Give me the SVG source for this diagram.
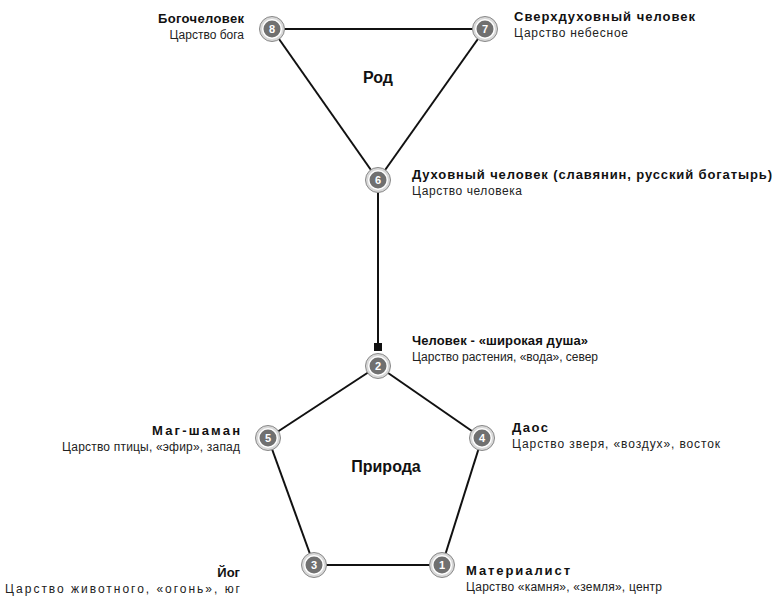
<svg xmlns="http://www.w3.org/2000/svg" width="777" height="600" viewBox="0 0 777 600">
<defs>
<style>
.t{font-family:"Liberation Sans",Arial,sans-serif;font-size:13px;font-weight:bold;fill:#111}
.s{font-family:"Liberation Sans",Arial,sans-serif;font-size:12px;fill:#222}
.c{font-family:"Liberation Sans",Arial,sans-serif;font-size:16px;font-weight:bold;fill:#111}
.n{font-family:"Liberation Sans",Arial,sans-serif;font-size:11px;font-weight:bold;fill:#fff;text-anchor:middle}
.e{stroke:#111;stroke-width:2;fill:none}
.o{fill:#d8d8d8;stroke:#888;stroke-width:1}
.w{fill:#fff}
.i{fill:#707070}
</style>
<marker id="a" markerWidth="8" markerHeight="8" refX="4" refY="4" orient="auto" markerUnits="userSpaceOnUse">
<rect x="0" y="0" width="8" height="8" fill="#111"/>
</marker>
<g id="nd">
<circle r="12.5" class="o"/>
<circle r="10" class="w"/>
<circle r="8.5" class="i"/>
</g>
</defs>
<rect width="777" height="600" fill="#fff"/>
<g id="connectors">
<line class="e" x1="272" y1="29" x2="485" y2="29"/>
<line class="e" x1="272" y1="29" x2="378" y2="180"/>
<line class="e" x1="485" y1="29" x2="378" y2="180"/>
<line class="e" x1="378" y1="193" x2="378" y2="347" marker-end="url(#a)"/>
<line class="e" x1="378" y1="366" x2="482" y2="438"/>
<line class="e" x1="378" y1="366" x2="268" y2="438"/>
<line class="e" x1="268" y1="438" x2="314" y2="565"/>
<line class="e" x1="482" y1="438" x2="442" y2="565"/>
<line class="e" x1="314" y1="565" x2="442" y2="565"/>
</g>
<text class="c" x="378" y="83" text-anchor="middle">Род</text>
<text class="c" x="386" y="472" text-anchor="middle">Природа</text>
<g id="n8">
<use href="#nd" x="272" y="29"/><text class="n" x="272" y="33">8</text>
<text class="t" x="244" y="23" text-anchor="end" textLength="86" lengthAdjust="spacing">Богочеловек</text>
<text class="s" x="244" y="39" text-anchor="end">Царство бога</text>
</g>
<g id="n7">
<use href="#nd" x="485" y="29"/><text class="n" x="485" y="33">7</text>
<text class="t" x="514" y="21" textLength="181" lengthAdjust="spacing">Сверхдуховный человек</text>
<text class="s" x="514" y="37" textLength="114" lengthAdjust="spacing">Царство небесное</text>
</g>
<g id="n6">
<use href="#nd" x="378" y="180"/><text class="n" x="378" y="184">6</text>
<text class="t" x="412" y="179" textLength="360" lengthAdjust="spacing">Духовный человек (славянин, русский богатырь)</text>
<text class="s" x="412" y="195" textLength="110" lengthAdjust="spacing">Царство человека</text>
</g>
<g id="n2">
<use href="#nd" x="378" y="366"/><text class="n" x="378" y="370">2</text>
<text class="t" x="412" y="345" textLength="176" lengthAdjust="spacing">Человек - «широкая душа»</text>
<text class="s" x="412" y="361" textLength="186" lengthAdjust="spacing">Царство растения, «вода», север</text>
</g>
<g id="n5">
<use href="#nd" x="268" y="438"/><text class="n" x="268" y="442">5</text>
<text class="t" x="240" y="435" text-anchor="end" textLength="88" lengthAdjust="spacing">Маг-шаман</text>
<text class="s" x="240" y="451" text-anchor="end" textLength="178" lengthAdjust="spacing">Царство птицы, «эфир», запад</text>
</g>
<g id="n4">
<use href="#nd" x="482" y="438"/><text class="n" x="482" y="442">4</text>
<text class="t" x="512" y="432" textLength="36" lengthAdjust="spacing">Даос</text>
<text class="s" x="512" y="448" textLength="208" lengthAdjust="spacing">Царство зверя, «воздух», восток</text>
</g>
<g id="n3">
<use href="#nd" x="314" y="565"/><text class="n" x="314" y="569">3</text>
<text class="t" x="240" y="577" text-anchor="end">Йог</text>
<text class="s" x="240" y="593" text-anchor="end" textLength="235" lengthAdjust="spacing">Царство животного, «огонь», юг</text>
</g>
<g id="n1">
<use href="#nd" x="442" y="565"/><text class="n" x="442" y="569">1</text>
<text class="t" x="466" y="575" textLength="104" lengthAdjust="spacing">Материалист</text>
<text class="s" x="466" y="591" textLength="196" lengthAdjust="spacing">Царство «камня», «земля», центр</text>
</g>
</svg>
